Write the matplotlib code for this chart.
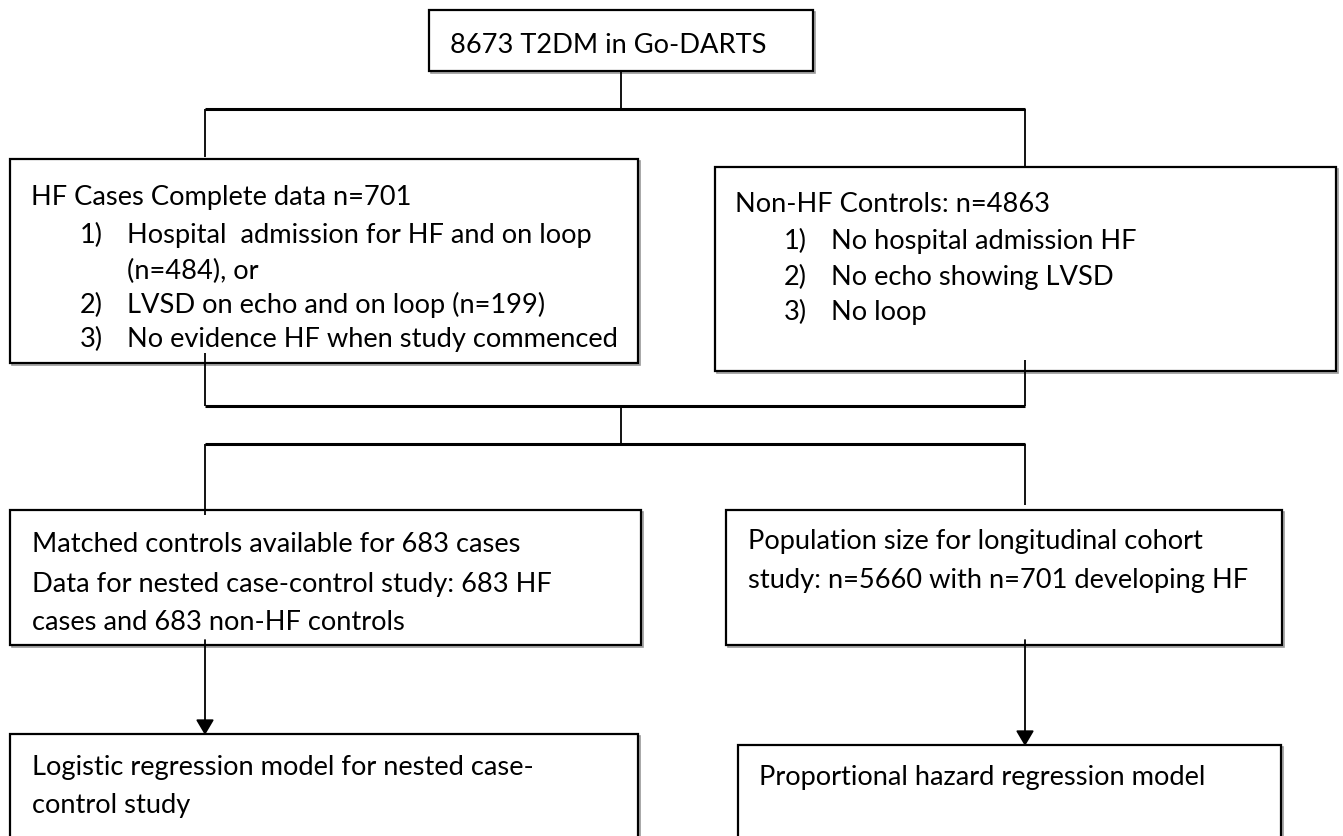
import matplotlib
matplotlib.use("Agg")
import matplotlib.pyplot as plt
from matplotlib.patches import Rectangle

plt.rcParams['font.family'] = ['Lato', 'DejaVu Sans']

W, H = 1343, 837
top_title = "8673 T2DM in Go-DARTS"
hf_title = "HF Cases Complete data n=701"
hf_items = [("1)", "Hospital  admission for HF and on loop"),
            ("", "(n=484), or"),
            ("2)", "LVSD on echo and on loop (n=199)"),
            ("3)", "No evidence HF when study commenced")]
ctrl_title = "Non-HF Controls: n=4863"
ctrl_items = [("1)", "No hospital admission HF"),
              ("2)", "No echo showing LVSD"),
              ("3)", "No loop")]
matched_lines = ["Matched controls available for 683 cases",
                 "Data for nested case-control study: 683 HF",
                 "cases and 683 non-HF controls"]
pop_lines = ["Population size for longitudinal cohort",
             "study: n=5660 with n=701 developing HF"]
logit_lines = ["Logistic regression model for nested case-",
               "control study"]
prop_lines = ["Proportional hazard regression model"]

fig = plt.figure(figsize=(W / 100, H / 100), dpi=100)
ax = fig.add_axes([0, 0, 1, 1])
ax.set_xlim(0, W)
ax.set_ylim(H, 0)
ax.axis('off')

FS = 19.6
BOX_LW = 1.6


def box(x0, y0, x1, y1):
    ax.add_patch(Rectangle((x0 + 1.5, y0 + 1.5), x1 - x0, y1 - y0, fill=False,
                           edgecolor='#9a9a9a', lw=1.2, zorder=1))
    ax.add_patch(Rectangle((x0, y0), x1 - x0, y1 - y0, facecolor='white',
                           edgecolor='black', lw=BOX_LW, zorder=2))


def line(xs, ys, lw=1.3):
    ax.plot(xs, ys, color='black', lw=lw, solid_capstyle='butt', zorder=3)


def txt(x, y, s):
    ax.text(x, y, s, fontsize=FS, va='baseline', ha='left', color='black', zorder=4)


# boxes
box(429, 11, 813, 72)
box(10, 160, 638, 364)
box(715, 168, 1336, 372)
box(10, 511, 641, 646)
box(726, 511, 1282, 646)
box(10, 735, 638, 860)
box(738, 746, 1281, 860)

# connectors
line([621, 621], [72, 110])
line([205, 1025], [110, 110], lw=2.2)
line([205, 205], [110, 158])
line([1025, 1025], [110, 168])
line([205, 205], [354, 407])
line([1025, 1025], [361, 407])
line([205, 1025], [407, 407], lw=2.2)
line([621, 621], [407, 445])
line([205, 1025], [445, 445], lw=2.2)
line([205, 205], [445, 516])
line([1025, 1025], [445, 506])

for x, y0, y1 in [(205, 641, 736), (1025, 641, 747)]:
    ax.annotate('', xy=(x, y1), xytext=(x, y0),
                arrowprops=dict(arrowstyle='-|>,head_length=0.85,head_width=0.5',
                                color='black', lw=1.3, shrinkA=0, shrinkB=0,
                                mutation_scale=11),
                zorder=5)

# texts
txt(450, 53, top_title)
txt(31, 205, hf_title)
for (num, s), y in zip(hf_items, [243, 279, 313, 347]):
    if num:
        txt(80, y, num)
    txt(127, y, s)
txt(735, 212, ctrl_title)
for (num, s), y in zip(ctrl_items, [249, 285, 320]):
    txt(784, y, num)
    txt(831, y, s)
for s, y in zip(matched_lines, [552, 592, 630]):
    txt(32, y, s)
for s, y in zip(pop_lines, [549, 588]):
    txt(748, y, s)
for s, y in zip(logit_lines, [775, 813]):
    txt(32, y, s)
for s, y in zip(prop_lines, [785]):
    txt(759, y, s)

fig.savefig('out.png', dpi=100, facecolor='white')
